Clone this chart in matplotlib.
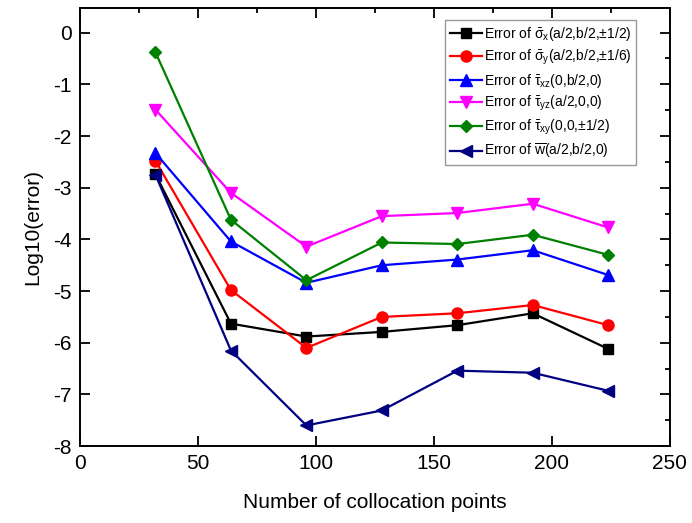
import matplotlib
matplotlib.use('Agg')
import matplotlib.pyplot as plt
from matplotlib.ticker import MultipleLocator

plt.rcParams['font.family'] = ['Liberation Sans', 'DejaVu Sans']
plt.rcParams['mathtext.fontset'] = 'custom'
plt.rcParams['mathtext.rm'] = 'Liberation Sans'
plt.rcParams['mathtext.it'] = 'Liberation Sans'
plt.rcParams['axes.unicode_minus'] = False

# number of collocation points
npts = [32, 64, 96, 128, 160, 192, 224]

# log10 of the error at each check point
err_sx = [-2.74, -5.63, -5.88, -5.79, -5.66, -5.43, -6.12]
err_sy = [-2.48, -4.98, -6.10, -5.50, -5.43, -5.27, -5.66]
err_txz = [-2.33, -4.04, -4.84, -4.50, -4.39, -4.21, -4.69]
err_tyz = [-1.49, -3.10, -4.14, -3.55, -3.49, -3.31, -3.77]
err_txy = [-0.38, -3.62, -4.79, -4.06, -4.09, -3.91, -4.30]
err_w = [-2.75, -6.15, -7.60, -7.31, -6.54, -6.58, -6.93]

labels = [
    r'Error of $\bar{\sigma}_x$(a/2,b/2,±1/2)',
    r'Error of $\bar{\sigma}_y$(a/2,b/2,±1/6)',
    r'Error of $\bar{\tau}_{xz}$(0,b/2,0)',
    r'Error of $\bar{\tau}_{yz}$(a/2,0,0)',
    r'Error of $\bar{\tau}_{xy}$(0,0,±1/2)',
    r'Error of $\overline{w}$(a/2,b/2,0)',
]
series = [err_sx, err_sy, err_txz, err_tyz, err_txy, err_w]
colors = ['black', 'red', 'blue', 'magenta', 'green', 'navy']
markers = ['s', 'o', '^', 'v', 'D', '<']
msizes = [7, 8, 8, 8, 6.5, 8]

fig = plt.figure(figsize=(6.92, 5.23), dpi=100)
ax = fig.add_axes([0.1156, 0.147, 0.852, 0.838])

for ys, c, m, ms, lab in zip(series, colors, markers, msizes, labels):
    ax.plot(npts, ys, color=c, marker=m, markersize=ms, linewidth=1.6, label=lab)

ax.set_xlim(0, 250)
ax.set_ylim(-8, 0.48)
ax.xaxis.set_major_locator(MultipleLocator(50))
ax.xaxis.set_minor_locator(MultipleLocator(25))
ax.yaxis.set_major_locator(MultipleLocator(1))
ax.yaxis.set_minor_locator(MultipleLocator(0.5))
ax.tick_params(which='both', direction='in', top=True, right=True, labelsize=15, width=1.3)
ax.tick_params(which='major', length=7, pad=6)
ax.tick_params(which='minor', length=3.5, bottom=False, left=False, top=True, right=True)
for sp in ax.spines.values():
    sp.set_linewidth(1.4)

ax.set_xlabel('Number of collocation points', fontsize=15, labelpad=14)
ax.set_ylabel('Log10(error)', fontsize=15, labelpad=8)

leg = ax.legend(loc='upper right', bbox_to_anchor=(0.948, 0.978), fontsize=10, frameon=True,
                fancybox=False, edgecolor='gray', handlelength=2.3, handletextpad=0.15,
                borderpad=0.35, labelspacing=0.33, borderaxespad=0.2)
leg.get_frame().set_linewidth(1.0)

fig.savefig('out.png', dpi=100)
